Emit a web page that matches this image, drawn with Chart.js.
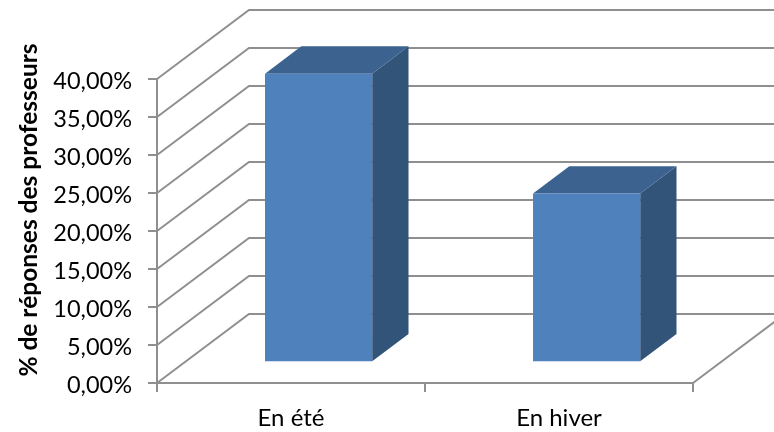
<!DOCTYPE html>
<html>
<head>
<meta charset="utf-8">
<script src="https://cdn.jsdelivr.net/npm/chart.js@4"></script>
<style>
  html, body { margin: 0; padding: 0; background: #fff; overflow: hidden; }
  canvas { display: block; }
</style>
</head>
<body>
<canvas id="chart" width="774" height="432"></canvas>
<script>
const categories = ['En été', 'En hiver'];
const responses = [37.97, 22.2];
const axisTitle = '% de réponses des professeurs';

const FONT = 'Lato, Carlito, Calibri, sans-serif';
const GRID = '#8f8f8f';

// depth of the floor, and of one bar, in px
const wallDx = 92, wallDy = -69;
const barShiftX = 27.6, barShiftY = -20.7;
const barDx = 36.3, barDy = -27.4;

function poly(ctx, pts, fill) {
  ctx.beginPath();
  pts.forEach((p, i) => i ? ctx.lineTo(p[0], p[1]) : ctx.moveTo(p[0], p[1]));
  ctx.closePath();
  ctx.fillStyle = fill;
  ctx.fill();
}

const fake3d = {
  id: 'fake3d',
  beforeDatasetsDraw(chart) {
    const { ctx, chartArea: area, scales } = chart;
    ctx.save();
    ctx.strokeStyle = GRID;
    ctx.lineWidth = 2;

    // wall lines, one per y tick
    scales.y.ticks.forEach(t => {
      const y = Math.round(scales.y.getPixelForValue(t.value));
      ctx.beginPath();
      ctx.moveTo(area.left, y);
      ctx.lineTo(area.left + wallDx, y + wallDy);
      ctx.lineTo(chart.width + 5, y + wallDy);
      ctx.stroke();
    });

    // right edge of the floor
    ctx.beginPath();
    ctx.moveTo(area.right, area.bottom);
    ctx.lineTo(area.right + wallDx, area.bottom + wallDy);
    ctx.stroke();

    // sides and tops of the bars
    chart.getDatasetMeta(0).data.forEach(bar => {
      const l = bar.x - bar.width / 2 + barShiftX;
      const r = bar.x + bar.width / 2 + barShiftX;
      const t = bar.y + barShiftY;
      const b = bar.base + barShiftY;
      poly(ctx, [[r, t], [r + barDx, t + barDy], [r + barDx, b + barDy], [r, b]], '#325479');
      poly(ctx, [[l, t], [l + barDx, t + barDy], [r + barDx, t + barDy], [r, t]], '#3c6390');
    });
    ctx.restore();
  },
  beforeDatasetDraw(chart) {
    chart.ctx.save();
    chart.ctx.translate(barShiftX, barShiftY);
  },
  afterDatasetDraw(chart) {
    chart.ctx.restore();
  },
  afterDraw(chart) {
    const ctx = chart.ctx;
    ctx.save();
    ctx.translate(29.5, 210);
    ctx.rotate(-Math.PI / 2);
    ctx.font = 'bold 24.5px ' + FONT;
    ctx.fillStyle = '#000';
    ctx.textAlign = 'center';
    ctx.textBaseline = 'middle';
    ctx.fillText(axisTitle, 0, 0);
    ctx.restore();
  }
};

new Chart(document.getElementById('chart'), {
  type: 'bar',
  data: {
    labels: categories,
    datasets: [{
      data: responses,
      backgroundColor: '#4f81bd',
      barPercentage: 0.4,
      categoryPercentage: 1
    }]
  },
  options: {
    responsive: false,
    animation: false,
    layout: { padding: { top: 79, right: 81, left: 0, bottom: 0 } },
    plugins: { legend: { display: false }, tooltip: { enabled: false } },
    scales: {
      x: {
        afterFit: s => { s.height = 49; },
        grid: { drawOnChartArea: false, color: GRID, lineWidth: 2, tickLength: 9 },
        border: { color: GRID, width: 2 },
        ticks: { color: '#000', padding: 12, font: { family: FONT, size: 24 }, maxRotation: 0 }
      },
      y: {
        min: 0,
        max: 40,
        afterFit: s => { s.width = 157; },
        grid: { drawOnChartArea: false, color: GRID, lineWidth: 2, tickLength: 9 },
        border: { color: GRID, width: 2 },
        ticks: {
          stepSize: 5,
          color: '#000',
          padding: 16,
          labelOffset: 2,
          font: { family: FONT, size: 23.5 },
          callback: v => v.toFixed(2).replace('.', ',') + '%'
        }
      }
    }
  },
  plugins: [fake3d]
});
</script>
</body>
</html>
